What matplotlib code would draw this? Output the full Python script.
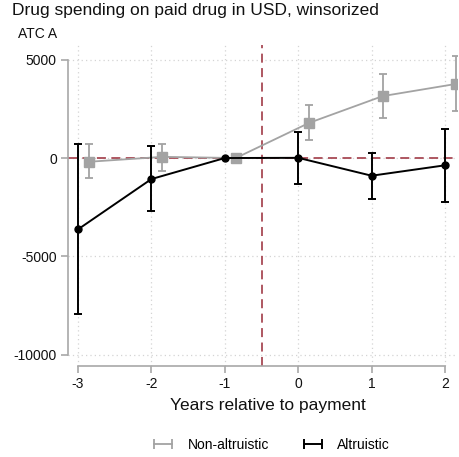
import matplotlib
matplotlib.use("Agg")
import matplotlib.pyplot as plt
from matplotlib.lines import Line2D
import numpy as np

plt.rcParams['font.family'] = ['Liberation Sans', 'DejaVu Sans']

# Event-time estimates (years relative to payment)
years = [-3, -2, -1, 0, 1, 2]

# Non-altruistic group: point estimate and 95% CI bounds
nonalt_est = [-190, 60, 0, 1790, 3150, 3770]
nonalt_lo = [-1020, -660, 0, 910, 2020, 2390]
nonalt_hi = [710, 730, 0, 2700, 4270, 5200]

# Altruistic group: point estimate and 95% CI bounds
alt_est = [-3630, -1070, 0, 10, -900, -370]
alt_lo = [-7930, -2710, 0, -1300, -2070, -2240]
alt_hi = [700, 610, 0, 1340, 270, 1460]

xticks = [-3, -2, -1, 0, 1, 2]
yticks = [-10000, -5000, 0, 5000]

GRAY = "#a3a3a3"
BLACK = "#000000"
RED = "#a84a55"
AXIS = "#a8a8a8"

fig = plt.figure(figsize=(4.59, 4.57), dpi=100)
ax = fig.add_axes([68/459, 91/457, 389/459, 321/457])

x = np.array(years, dtype=float)
x_shift = x + 0.15

# reference lines
ax.axhline(0, color=RED, lw=1.3, ls=(0, (5, 3)), zorder=1)
ax.axvline(-0.5, color=RED, lw=1.3, ls=(0, (5, 3)), zorder=1)

def draw_series(xs, est, lo, hi, color, marker, ms, lw, z):
    est = np.array(est); lo = np.array(lo); hi = np.array(hi)
    has_ci = hi != lo
    ax.errorbar(xs[has_ci], est[has_ci],
                yerr=[est[has_ci] - lo[has_ci], hi[has_ci] - est[has_ci]],
                fmt='none', ecolor=color, elinewidth=lw, capsize=3,
                capthick=lw, zorder=z)
    ax.plot(xs, est, color=color, lw=lw, marker=marker, ms=ms,
            mec=color, mfc=color, zorder=z + 0.5)

draw_series(x_shift, nonalt_est, nonalt_lo, nonalt_hi, GRAY, 's', 7, 1.3, 3)
draw_series(x, alt_est, alt_lo, alt_hi, BLACK, 'o', 5, 1.4, 5)

ax.set_xlim(-3.136, 2.163)
ax.set_ylim(-10580, 5750)

ax.set_xticks(xticks)
ax.set_yticks(yticks)
ax.set_xticklabels([str(t) for t in xticks])
ax.set_yticklabels([str(t) for t in yticks])

ax.grid(True, color="#d4d4d4", ls=(0, (1, 2.5)), lw=0.9, zorder=0)
ax.set_axisbelow(True)

for s in ['top', 'right']:
    ax.spines[s].set_visible(False)
for s in ['left', 'bottom']:
    ax.spines[s].set_color(AXIS)
    ax.spines[s].set_linewidth(1.2)
ax.spines['left'].set_bounds(-10000, 5000)
ax.spines['bottom'].set_bounds(-3, 2)

ax.tick_params(axis='both', colors=AXIS, labelcolor='#111111',
               labelsize=10, length=5, width=1.2, direction='out')
ax.tick_params(axis='y', pad=3)
ax.tick_params(axis='x', pad=3)

ax.set_xlabel("Years relative to payment", fontsize=12.5, color='#111111')
ax.xaxis.set_label_coords(0.513, -0.1215)
ax.xaxis.label.set_va('center')

fig.text(12/459, 1 - 11/457, "Drug spending on paid drug in USD, winsorized",
         fontsize=12.5, va='center', ha='left', color='#111111')
fig.text(18/459, 1 - 34/457, "ATC A", fontsize=10, va='center', ha='left',
         color='#111111')

handles = [
    Line2D([], [], color=GRAY, lw=1.3, marker='|', ms=7, mew=1.3),
    Line2D([], [], color=BLACK, lw=1.4, marker='|', ms=7, mew=1.4),
]
fig.legend(handles, ["Non-altruistic", "Altruistic"], loc='center',
           bbox_to_anchor=(270/459, 1 - 445/457), ncol=2, frameon=False,
           fontsize=10, numpoints=2, handlelength=1.9, handletextpad=0.8,
           columnspacing=2.2)

fig.savefig("out.png", dpi=100)
